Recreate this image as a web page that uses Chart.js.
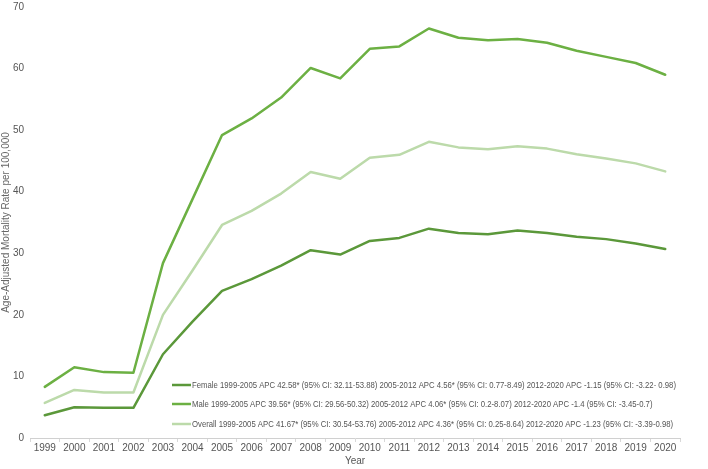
<!DOCTYPE html>
<html>
<head>
<meta charset="utf-8">
<script src="https://cdn.jsdelivr.net/npm/chart.js@4"></script>
<style>
  html, body { margin: 0; padding: 0; background: #fff; }
  #wrap { width: 708px; height: 469px; }
</style>
</head>
<body>
<div id="wrap"><canvas id="chart" width="708" height="469"></canvas></div>
<script>
const years = ['1999', '2000', '2001', '2002', '2003', '2004', '2005', '2006', '2007', '2008', '2009',
  '2010', '2011', '2012', '2013', '2014', '2015', '2016', '2017', '2018', '2019', '2020'];

const female = [3.7, 5.0, 4.9, 4.9, 13.6, 18.9, 23.9, 25.8, 28.0, 30.5, 29.8,
  32.0, 32.5, 34.0, 33.3, 33.1, 33.7, 33.3, 32.7, 32.3, 31.6, 30.7];
const male = [8.3, 11.5, 10.7, 10.6, 28.4, 38.8, 49.2, 51.9, 55.3, 60.1, 58.4,
  63.2, 63.6, 66.5, 65.0, 64.6, 64.8, 64.2, 62.9, 61.9, 60.9, 59.0];
const overall = [5.7, 7.8, 7.4, 7.4, 20.0, 27.2, 34.6, 36.9, 39.7, 43.2, 42.1,
  45.5, 46.0, 48.1, 47.2, 46.9, 47.4, 47.0, 46.1, 45.4, 44.6, 43.3];

const labels = [
  'Female 1999-2005 APC 42.58* (95% CI: 32.11-53.88) 2005-2012 APC 4.56* (95% CI: 0.77-8.49) 2012-2020 APC -1.15 (95% CI: -3.22- 0.98)',
  'Male 1999-2005 APC 39.56* (95% CI: 29.56-50.32) 2005-2012 APC 4.06* (95% CI: 0.2-8.07) 2012-2020 APC -1.4 (95% CI: -3.45-0.7)',
  'Overall 1999-2005 APC 41.67* (95% CI: 30.54-53.76) 2005-2012 APC 4.36* (95% CI: 0.25-8.64) 2012-2020 APC -1.23 (95% CI: -3.39-0.98)'
];

const FONT = '"Helvetica Neue", Arial, "Liberation Sans", sans-serif';

// legend drawn inside the plot, bottom right
const insideLegend = {
  id: 'insideLegend',
  afterDraw(chart) {
    const ctx = chart.ctx;
    const area = chart.chartArea;
    const x0 = area.left + 142;
    const rows = [area.bottom - 53, area.bottom - 34, area.bottom - 14];
    ctx.save();
    ctx.font = '9.5px ' + FONT;
    ctx.textBaseline = 'middle';
    // squeeze the text a little so the longest entry ends just inside the plot
    const widest = Math.max(...chart.data.datasets.map(ds => ctx.measureText(ds.label).width));
    const sx = Math.min(1, (area.right - 4 - (x0 + 20)) / widest);
    chart.data.datasets.forEach((ds, i) => {
      const y = rows[i];
      ctx.strokeStyle = ds.borderColor;
      ctx.lineWidth = 2.5;
      ctx.beginPath();
      ctx.moveTo(x0, y);
      ctx.lineTo(x0 + 19, y);
      ctx.stroke();
      ctx.save();
      ctx.translate(x0 + 20, y);
      ctx.scale(sx, 1);
      ctx.fillStyle = '#555';
      ctx.fillText(ds.label, 0, 0);
      ctx.restore();
    });
    ctx.restore();
  }
};

new Chart(document.getElementById('chart'), {
  type: 'line',
  data: {
    labels: years,
    datasets: [
      { label: labels[0], data: female, borderColor: '#5b983a', borderWidth: 2.5 },
      { label: labels[1], data: male, borderColor: '#6cb043', borderWidth: 2.5 },
      { label: labels[2], data: overall, borderColor: '#bcdaaa', borderWidth: 2.5 }
    ]
  },
  options: {
    responsive: false,
    animation: false,
    layout: { padding: { top: 0, right: 28, left: 0, bottom: 0 } },
    elements: {
      point: { radius: 0 },
      line: { tension: 0, borderCapStyle: 'round', borderJoinStyle: 'round' }
    },
    plugins: {
      legend: { display: false },
      tooltip: { enabled: false }
    },
    scales: {
      x: {
        offset: true,
        grid: { offset: true, drawOnChartArea: false, drawTicks: true, tickLength: 4, color: '#d8d8d8' },
        border: { color: '#d0d0d0' },
        ticks: { color: '#555', font: { family: FONT, size: 10 }, padding: 0, maxRotation: 0, autoSkip: false },
        title: { display: true, text: 'Year', color: '#555', font: { family: FONT, size: 10 }, padding: { top: 0, bottom: 2 } },
        afterFit(scale) { scale.height = 31; }
      },
      y: {
        min: 0,
        max: 70,
        ticks: { stepSize: 10, color: '#555', font: { family: FONT, size: 10 }, padding: 6 },
        grid: { display: false, drawTicks: false },
        border: { display: false },
        title: { display: true, text: 'Age-Adjusted Mortality Rate per 100,000', color: '#666', font: { family: FONT, size: 10 }, padding: 0 },
        afterFit(scale) { scale.width = 30; scale.paddingTop = 7; }
      }
    }
  },
  plugins: [insideLegend]
});
</script>
</body>
</html>
